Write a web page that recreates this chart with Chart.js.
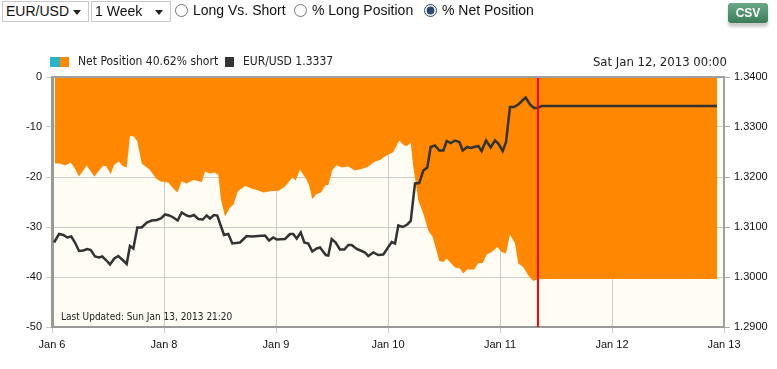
<!DOCTYPE html>
<html>
<head>
<meta charset="utf-8">
<script src="https://cdn.jsdelivr.net/npm/chart.js@4.4.1/dist/chart.umd.min.js"></script>
<style>
  body { margin: 0; background: #fff; font-family: 'Liberation Sans', Arial, sans-serif; }
  #wrap { position: relative; width: 777px; height: 369px; overflow: hidden; }
  #chart { position: absolute; left: 0; top: 0; }
  .sel { position: absolute; top: 1px; height: 21px; box-sizing: border-box; border: 1px solid #c8c8c8; background: #fff;
    font: 14px 'Liberation Sans', Arial, sans-serif; color: #111; padding-left: 3px; line-height: 19px; }
  .sel:after { content: ''; position: absolute; right: 7px; top: 8px; border-left: 4px solid transparent;
    border-right: 4px solid transparent; border-top: 5px solid #222; }
  .opt { position: absolute; top: 2px; font: 14px 'Liberation Sans', Arial, sans-serif; color: #111; display: flex; align-items: center; }
  .opt input { margin: 0 5px 0 0; width: 13px; height: 13px; accent-color: #2c4a6e; }
  #csv { position: absolute; left: 728px; top: 3px; width: 40px; height: 20px; border-radius: 3px;
    background: linear-gradient(#6aa987, #3c7b59); color: #fff; font: bold 12px 'Liberation Sans', Arial, sans-serif;
    text-align: center; line-height: 20px; box-shadow: 0 4px 3px #ccc; }
</style>
</head>
<body>
<div id="wrap">
  <canvas id="chart" width="777" height="369"></canvas>
  <div class="sel" style="left:2px;width:87px">EUR/USD</div>
  <div class="sel" style="left:91px;width:80px">1 Week</div>
  <label class="opt" style="left:175px"><input type="radio" name="v">Long Vs. Short</label>
  <label class="opt" style="left:294px"><input type="radio" name="v">% Long Position</label>
  <label class="opt" style="left:424px"><input type="radio" name="v" checked>% Net Position</label>
  <div id="csv">CSV</div>
</div>
<script>
// Axis ticks (x in days after the Jan 6 tick)
const dayTicks = [0, 1, 2, 3, 4, 5, 6];
const dayLabels = ['Jan 6', 'Jan 8', 'Jan 9', 'Jan 10', 'Jan 11', 'Jan 12', 'Jan 13'];
const leftTicks = [0, -10, -20, -30, -40, -50];
const rightTicks = [1.34, 1.33, 1.32, 1.31, 1.30, 1.29];
const nowDay = 4.339;

// Net position (% net, negative = short)
const netDays = [0.027, 0.071, 0.116, 0.167, 0.205, 0.241, 0.310, 0.378, 0.453, 0.482, 0.524, 0.554, 0.596, 0.631, 0.667,
  0.696, 0.732, 0.762, 0.801, 0.875, 0.929, 0.971, 1.038, 1.083, 1.119, 1.158, 1.203, 1.262, 1.337, 1.366, 1.411, 1.455,
  1.485, 1.509, 1.545, 1.589, 1.619, 1.658, 1.723, 1.783, 1.842, 1.887, 1.962, 2.021, 2.080, 2.146, 2.176, 2.214, 2.274,
  2.295, 2.324, 2.363, 2.402, 2.438, 2.467, 2.503, 2.542, 2.587, 2.646, 2.705, 2.779, 2.824, 2.884, 2.929, 2.973, 3.047,
  3.101, 3.143, 3.167, 3.203, 3.226, 3.271, 3.315, 3.360, 3.399, 3.458, 3.494, 3.524, 3.598, 3.643, 3.672, 3.708, 3.768,
  3.806, 3.846, 3.881, 3.926, 3.976, 4.015, 4.054, 4.089, 4.134, 4.163, 4.208, 4.253, 4.297, 4.328, 4.357, 5.938];
const netValues = [-17.3, -17.3, -17.7, -17.1, -18.3, -19.9, -17.7, -19.9, -17.8, -17.8, -19.4, -17.6, -16.9, -17.8, -18.1,
  -11.8, -11.9, -12.9, -17.3, -18.6, -20.3, -20.9, -21.1, -22.3, -23.1, -20.9, -21.3, -20.6, -21.0, -18.9, -19.3, -19.1,
  -19.6, -24.6, -27.9, -26.1, -25.6, -22.9, -21.8, -22.3, -22.7, -23.1, -22.8, -22.8, -21.9, -20.1, -20.7, -18.5, -20.6,
  -21.6, -24.4, -23.4, -23.1, -21.7, -21.6, -18.6, -17.6, -18.1, -17.9, -18.7, -18.3, -17.9, -16.9, -16.6, -15.9, -15.0,
  -12.7, -13.7, -13.8, -13.2, -18.0, -24.7, -27.3, -30.7, -32.0, -36.8, -37.0, -36.3, -38.1, -38.3, -39.3, -38.5, -38.5,
  -37.2, -37.2, -35.5, -35.0, -34.0, -35.0, -35.3, -31.5, -33.3, -37.3, -38.0, -39.7, -40.8, -40.5, -40.4, -40.4];

// EUR/USD price
const priceDays = [0.018, 0.063, 0.101, 0.137, 0.172, 0.205, 0.241, 0.279, 0.315, 0.346, 0.384, 0.420, 0.449, 0.482, 0.518,
  0.556, 0.592, 0.631, 0.667, 0.696, 0.726, 0.762, 0.801, 0.846, 0.890, 0.935, 0.973, 1.009, 1.047, 1.083, 1.122, 1.158,
  1.203, 1.232, 1.268, 1.306, 1.346, 1.381, 1.411, 1.446, 1.476, 1.500, 1.536, 1.574, 1.610, 1.679, 1.738, 1.783, 1.842,
  1.902, 1.938, 1.976, 2.006, 2.080, 2.125, 2.154, 2.185, 2.221, 2.253, 2.288, 2.324, 2.363, 2.393, 2.444, 2.467, 2.497,
  2.533, 2.571, 2.610, 2.646, 2.676, 2.721, 2.765, 2.795, 2.824, 2.869, 2.913, 2.958, 3.033, 3.063, 3.092, 3.131, 3.172,
  3.203, 3.241, 3.279, 3.315, 3.351, 3.381, 3.420, 3.458, 3.494, 3.524, 3.560, 3.598, 3.637, 3.667, 3.708, 3.738, 3.806,
  3.836, 3.875, 3.917, 3.955, 3.985, 4.024, 4.054, 4.089, 4.125, 4.163, 4.229, 4.268, 4.304, 4.333, 4.372, 5.938];
const priceValues = [1.3069, 1.3086, 1.3084, 1.3079, 1.3081, 1.3069, 1.3052, 1.3053, 1.3056, 1.3054, 1.3041, 1.3039, 1.3041,
  1.3034, 1.3025, 1.3037, 1.3042, 1.3034, 1.3026, 1.3062, 1.3057, 1.3099, 1.3099, 1.3109, 1.3113, 1.3114, 1.3117, 1.3125,
  1.3123, 1.3119, 1.3113, 1.3129, 1.3123, 1.3121, 1.3124, 1.3116, 1.3115, 1.3123, 1.3117, 1.3124, 1.3123, 1.3107, 1.3084,
  1.3086, 1.3067, 1.3069, 1.3082, 1.3081, 1.3082, 1.3083, 1.3073, 1.3079, 1.3075, 1.3076, 1.3086, 1.3086, 1.3077, 1.3089,
  1.3069, 1.3067, 1.3051, 1.3057, 1.3059, 1.3044, 1.3043, 1.3076, 1.3069, 1.3055, 1.3055, 1.3064, 1.3064, 1.3056, 1.3052,
  1.3049, 1.3042, 1.3049, 1.3044, 1.3045, 1.3070, 1.3067, 1.3103, 1.3100, 1.3105, 1.3112, 1.3187, 1.3188, 1.3213, 1.3219,
  1.3260, 1.3263, 1.3253, 1.3253, 1.3272, 1.3268, 1.3273, 1.3270, 1.3253, 1.3260, 1.3258, 1.3262, 1.3252, 1.3273, 1.3259,
  1.3273, 1.3267, 1.3252, 1.3270, 1.3340, 1.3340, 1.3345, 1.3359, 1.3345, 1.3338, 1.3338, 1.3342, 1.3342];

const tickFont = { family: "'Liberation Sans', Arial, sans-serif", size: 11 };
const labelFont = "'DejaVu Sans Condensed', 'DejaVu Sans', sans-serif";

// Background, frame, red "now" line, legend and notes
const decorPlugin = {
  id: 'decor',
  beforeDraw(chart) {
    const { ctx, chartArea: a } = chart;
    ctx.save();
    ctx.fillStyle = '#fffcf4';
    ctx.fillRect(a.left, a.top, a.right - a.left, a.bottom - a.top);
    ctx.restore();
  },
  afterDatasetsDraw(chart) {
    const { ctx, chartArea: a, scales } = chart;
    const x = scales.x.getPixelForValue(nowDay);
    ctx.save();
    ctx.strokeStyle = '#ff0000';
    ctx.lineWidth = 2;
    ctx.beginPath();
    ctx.moveTo(x, a.top);
    ctx.lineTo(x, a.bottom);
    ctx.stroke();
    // top and right frame
    ctx.strokeStyle = '#a0a0a0';
    ctx.lineWidth = 2;
    ctx.beginPath();
    ctx.moveTo(a.left, a.top);
    ctx.lineTo(a.right, a.top);
    ctx.lineTo(a.right, a.bottom);
    ctx.stroke();
    ctx.restore();
  },
  afterDraw(chart) {
    const { ctx, chartArea: a } = chart;
    ctx.save();
    // legend
    ctx.fillStyle = '#28b4c8';
    ctx.fillRect(a.left - 2, 57, 10, 10);
    ctx.fillStyle = '#ff8800';
    ctx.fillRect(a.left + 8, 57, 9, 10);
    ctx.fillStyle = '#333';
    ctx.fillRect(a.left + 173, 57, 9, 10);
    ctx.fillStyle = '#222';
    ctx.font = '12px ' + labelFont;
    ctx.textBaseline = 'middle';
    ctx.textAlign = 'left';
    ctx.fillText('Net Position 40.62% short', a.left + 26, 62);
    ctx.fillText('EUR/USD 1.3337', a.left + 191, 62);
    ctx.font = '13px ' + labelFont;
    ctx.textAlign = 'right';
    ctx.fillText('Sat Jan 12, 2013 00:00', a.right + 3, 63);
    ctx.font = '10px ' + labelFont;
    ctx.textAlign = 'left';
    ctx.fillText('Last Updated: Sun Jan 13, 2013 21:20', a.left + 9, 317);
    ctx.restore();
  }
};

new Chart(document.getElementById('chart'), {
  type: 'line',
  data: {
    datasets: [{
      label: 'Net Position',
      data: netDays.map((d, i) => ({ x: d, y: netValues[i] })),
      yAxisID: 'y',
      backgroundColor: '#ff8800',
      borderWidth: 0,
      pointRadius: 0,
      fill: 'end',
      order: 1
    }, {
      label: 'EUR/USD',
      data: priceDays.map((d, i) => ({ x: d, y: priceValues[i] })),
      yAxisID: 'y1',
      borderColor: '#333333',
      borderWidth: 2.5,
      pointRadius: 0,
      fill: false,
      order: 0
    }]
  },
  options: {
    responsive: false,
    devicePixelRatio: 1,
    animation: false,
    layout: { padding: { top: 77, left: 0, right: 0, bottom: 0 } },
    plugins: { legend: { display: false }, tooltip: { enabled: false } },
    scales: {
      x: {
        type: 'linear', min: 0, max: 6,
        afterBuildTicks: s => { s.ticks = dayTicks.map(v => ({ value: v })); },
        afterFit: s => { s.height = 42; },
        ticks: { callback: v => dayLabels[v], color: '#111', font: tickFont, padding: 5, maxRotation: 0, autoSkip: false },
        grid: { color: '#cccccc', tickLength: 6 },
        border: { color: '#999999', width: 2 }
      },
      y: {
        position: 'left', min: -50, max: 0,
        afterBuildTicks: s => { s.ticks = leftTicks.map(v => ({ value: v })); },
        afterFit: s => { s.width = 52; },
        ticks: { color: '#111', font: tickFont, padding: 4 },
        grid: { color: '#cccccc', tickLength: 6 },
        border: { color: '#999999', width: 3 }
      },
      y1: {
        position: 'right', min: 1.29, max: 1.34,
        afterBuildTicks: s => { s.ticks = rightTicks.map(v => ({ value: v })); },
        afterFit: s => { s.width = 53; },
        ticks: { callback: v => v.toFixed(4), color: '#111', font: tickFont, padding: 4 },
        grid: { drawOnChartArea: false, color: '#aaaaaa', tickLength: 6 },
        border: { display: false }
      }
    }
  },
  plugins: [decorPlugin]
});
</script>
</body>
</html>
